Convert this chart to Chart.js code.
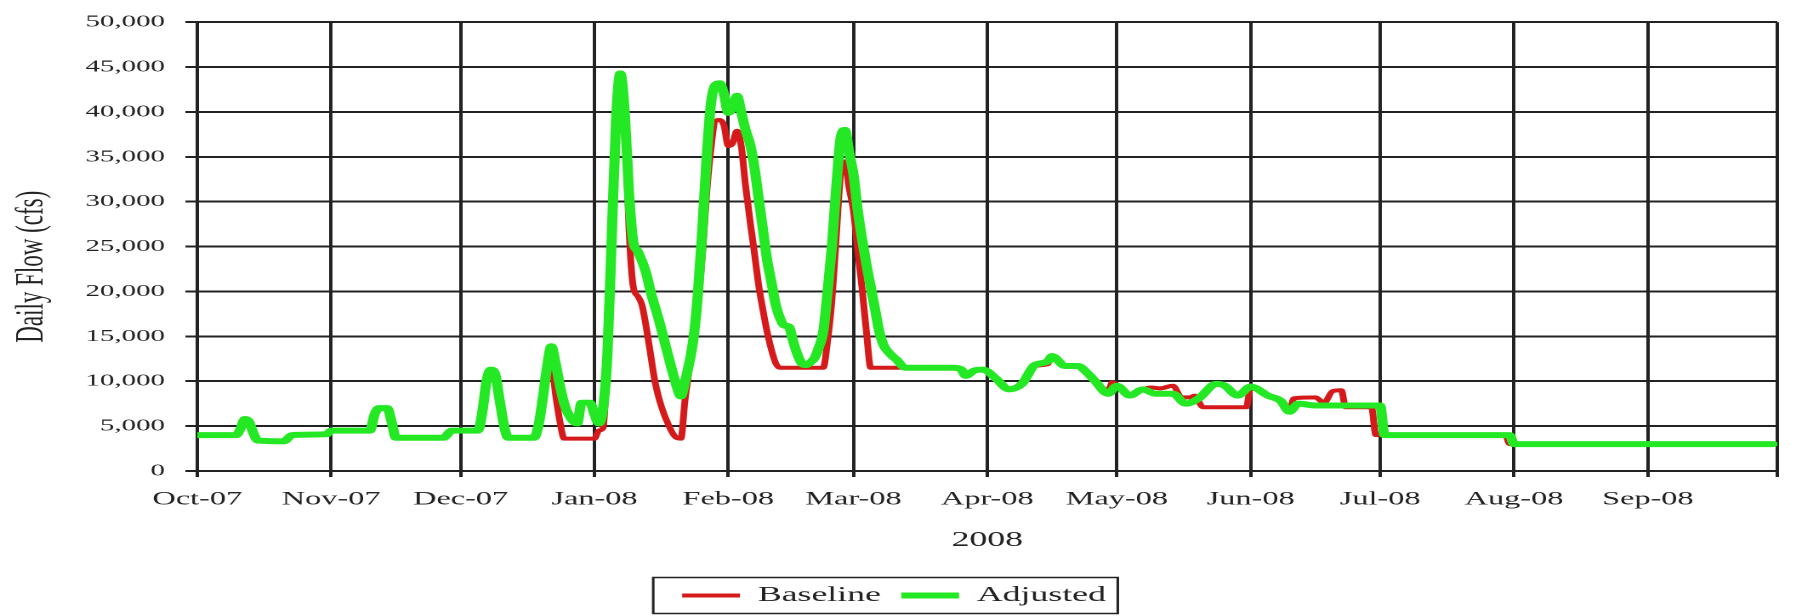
<!DOCTYPE html>
<html>
<head>
<meta charset="utf-8">
<script src="https://cdn.jsdelivr.net/npm/chart.js@4.4.1/dist/chart.umd.min.js"></script>
<style>
    html, body { margin: 0; padding: 0; background: #fff; overflow: hidden; }
    #wrap {
        width: 1056px;
        height: 616px;
        transform: scaleX(1.70076);
        transform-origin: 0 0;
    }
</style>
</head>
<body>
<div id="wrap"><canvas id="flowChart" width="1056" height="616"></canvas></div>
<script>
// day offsets from 1 Oct 2007
const monthStarts = [0, 31, 61, 92, 123, 152, 183, 213, 244, 274, 305, 336, 366];
const monthLabels = ["Oct-07", "Nov-07", "Dec-07", "Jan-08", "Feb-08", "Mar-08",
    "Apr-08", "May-08", "Jun-08", "Jul-08", "Aug-08", "Sep-08", ""];

const baseDays = [0, 9, 10, 11, 12, 13, 14, 20, 22, 30, 31, 40, 41, 42, 44, 45, 46, 57, 59,
    65, 66, 67, 68, 69, 70, 71, 72, 78, 79, 80, 81, 82, 83, 84, 85, 92, 93, 94,
    95, 96, 97, 98, 99, 100, 101, 102, 103, 104, 105, 106, 107, 108, 109, 110, 111, 112,
    113, 114, 115, 116, 117, 118, 119, 120, 121, 122, 123, 124, 125, 126, 127, 128, 129,
    130, 131, 132, 133, 134, 135, 145, 146, 147, 148, 149, 150, 151, 152, 153, 154, 155,
    156, 175, 177, 178, 180, 182, 185, 188, 191, 194, 197, 198, 201, 204, 206, 208, 211,
    212, 213, 216, 219, 221, 223, 226, 228, 230, 231, 233, 243, 244, 248, 251, 253, 254,
    259, 261, 263, 265, 266, 272, 273, 303, 304, 365];
const baseFlow = [4000, 4000, 4700, 5800, 5500, 4200, 3400, 3300, 4000, 4100, 4500, 4500, 6200, 7000, 7000, 5500, 3700, 3700, 4500,
    4500, 6500, 10000, 11300, 10800, 8000, 5200, 3700, 3700, 5000, 8000, 11500, 11900, 8500, 5500, 3600, 3600, 4500, 4800,
    13000, 26000, 39000, 44300, 40000, 27000, 20500, 19500, 18500, 16000, 13000, 10000, 8000, 6500, 5300, 4300, 3700, 3600,
    8000, 11500, 15000, 18500, 24000, 31000, 36000, 39000, 39100, 38500, 36200, 36500, 37900, 36200, 31800, 28000, 24500,
    20800, 18000, 15500, 13500, 12000, 11500, 11500, 14500, 19000, 26000, 33000, 34500, 31500, 29000, 24500, 20300, 15500,
    11500, 11500, 11300, 10600, 11200, 11300, 10300, 9100, 9700, 11700, 11900, 12800, 11700, 11700, 11000, 10000, 9000,
    9900, 9500, 8400, 9100, 9300, 9200, 9500, 8200, 8200, 8400, 7100, 7100, 9400, 8400, 7800, 6600, 8100,
    8200, 7600, 8900, 9000, 7100, 7100, 4000, 4000, 3000, 3000];

const adjDays = [0, 9, 10, 11, 12, 13, 14, 20, 22, 30, 31, 40, 41, 42, 44, 45, 46, 57, 59,
    65, 66, 67, 68, 69, 70, 71, 72, 78, 79, 80, 81, 82, 83, 84, 85, 86, 88, 89, 91, 92, 93, 94,
    95, 96, 97, 98, 99, 100, 101, 102, 104, 105, 107, 109, 111, 112, 113, 115, 116, 117, 118,
    119, 120, 121, 122, 123, 124, 125, 126, 127, 128, 129, 130, 131, 132, 133, 134, 135, 136,
    137, 138, 139, 140, 141, 142, 143, 144, 145, 146, 147, 148, 149, 150, 151, 152, 153, 154,
    155, 156, 157, 158, 159, 160, 161, 162, 164, 175, 177, 178, 180, 182, 185, 188, 191, 194,
    197, 198, 201, 204, 206, 208, 211, 213, 216, 219, 222, 226, 229, 232, 236, 238, 241, 244,
    248, 251, 253, 255, 259, 274, 275, 304, 305, 365];
const adjFlow = [4000, 4000, 4700, 5800, 5500, 4200, 3400, 3300, 4000, 4100, 4500, 4500, 6200, 7000, 7000, 5500, 3700, 3700, 4500,
    4500, 6500, 10000, 11300, 10800, 8000, 5200, 3700, 3700, 5000, 8000, 11500, 13900, 12000, 9500, 7500, 6300, 5300, 7600, 7600, 6300, 5300, 7000,
    13000, 26000, 39000, 44300, 40000, 31000, 25500, 24500, 22000, 20000, 16700, 13000, 9500, 8300, 10000, 15000, 20000, 27000, 35000,
    41000, 43000, 43200, 42000, 39900, 40500, 41800, 40000, 38000, 36500, 34000, 30500, 27000, 23500, 21000, 18500, 17000, 16200,
    16100, 14500, 13000, 12000, 11800, 12100, 12600, 13800, 15500, 20000, 25000, 31500, 37000, 38000, 35500, 33000, 29000, 25800,
    23000, 20500, 18000, 15500, 14000, 13300, 12800, 12400, 11500, 11500, 11300, 10600, 11200, 11300, 10300, 9100, 9700, 11800,
    12200, 12800, 11700, 11700, 11000, 10000, 8600, 9500, 8400, 9100, 8600, 8600, 7500, 8100, 9700, 9500, 8400, 9400,
    8400, 7800, 6600, 7500, 7300, 7300, 4000, 4000, 3000, 3000];

const yTicks = [0, 5000, 10000, 15000, 20000, 25000, 30000, 35000, 40000, 45000, 50000];

const serif = "'Liberation Serif', 'Times New Roman', serif";
const ink = "#222";

/* LEGEND FRAME */
const legendFrame = {
    id: "legendFrame",
    afterDraw(chart) {
        const boxes = chart.legend && chart.legend.legendHitBoxes;
        if (!boxes || !boxes.length) return;
        const first = boxes[0];
        const last = boxes[boxes.length - 1];
        const mid = first.top + first.height / 2;
        const ctx = chart.ctx;
        ctx.save();
        ctx.strokeStyle = ink;
        ctx.lineWidth = 1.5;
        ctx.strokeRect(first.left - 17, mid - 18,
            last.left + last.width - first.left + 24, 36);
        ctx.restore();
    }
};

const toPoints = (days, flow) => days.map((d, i) => ({ x: d, y: flow[i] }));

new Chart(document.getElementById("flowChart"), {
    type: "line",
    data: {
        datasets: [
            {
                label: "Baseline",
                data: toPoints(baseDays, baseFlow),
                borderColor: "#d41a1a",
                backgroundColor: "#d41a1a",
                borderWidth: 4,
                order: 2
            },
            {
                label: "Adjusted",
                data: toPoints(adjDays, adjFlow),
                borderColor: "#25e825",
                backgroundColor: "#25e825",
                borderWidth: 6,
                order: 1
            }
        ]
    },
    options: {
        responsive: false,
        animation: false,
        devicePixelRatio: 2,
        layout: { padding: { top: 18, right: 4.7, left: 0, bottom: 0 } },
        elements: {
            point: { radius: 0 },
            line: {
                cubicInterpolationMode: "monotone",
                borderJoinStyle: "round",
                borderCapStyle: "round"
            }
        },
        scales: {
            x: {
                type: "linear",
                min: 0,
                max: 366,
                afterBuildTicks: (scale) => {
                    scale.ticks = monthStarts.map(v => ({ value: v }));
                },
                afterFit: (scale) => {
                    const lg = scale.chart.legend;
                    scale.height = 616 - 471 - (lg ? lg.height : 43);
                },
                ticks: {
                    autoSkip: false,
                    maxRotation: 0,
                    padding: 11,
                    color: ink,
                    font: { family: serif, size: 19 },
                    callback: (v) => {
                        const i = monthStarts.indexOf(v);
                        return i < 0 ? "" : monthLabels[i];
                    }
                },
                grid: { color: ink, lineWidth: 2, tickLength: 6 },
                border: { color: ink, width: 2 },
                title: {
                    display: true,
                    text: "2008",
                    color: ink,
                    font: { family: serif, size: 21 },
                    padding: { top: 0, bottom: 20 }
                }
            },
            y: {
                min: 0,
                max: 50000,
                afterBuildTicks: (scale) => {
                    scale.ticks = yTicks.map(v => ({ value: v }));
                },
                afterFit: (scale) => {
                    scale.width = 116;
                },
                ticks: {
                    padding: 12,
                    color: ink,
                    font: { family: serif, size: 17 },
                    callback: (v) => v.toLocaleString("en-US")
                },
                grid: { color: ink, lineWidth: 2, tickLength: 7 },
                border: { color: ink, width: 2 },
                title: {
                    display: true,
                    text: "Daily Flow (cfs)\u00a0\u00a0\u00a0\u00a0\u00a0\u00a0\u00a0",
                    color: ink,
                    font: { family: serif, size: 23 },
                    padding: { top: 5, bottom: 0 }
                }
            }
        },
        plugins: {
            tooltip: { enabled: false },
            legend: {
                position: "bottom",
                labels: {
                    usePointStyle: true,
                    pointStyle: "line",
                    pointStyleWidth: 34,
                    padding: 12,
                    color: ink,
                    font: { family: serif, size: 21 },
                    sort: (a, b) => a.datasetIndex - b.datasetIndex
                }
            }
        }
    },
    plugins: [legendFrame]
});
</script>
</body>
</html>
